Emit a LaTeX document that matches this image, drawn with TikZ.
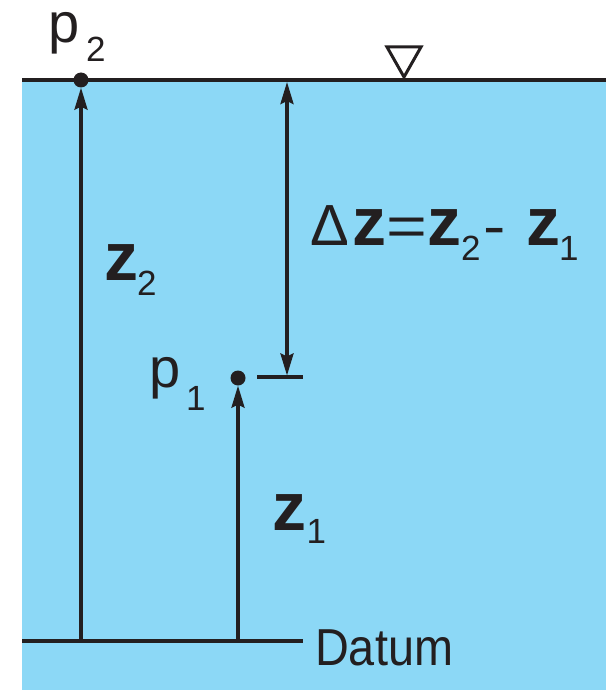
\documentclass[tikz,border=0pt]{standalone}
\usepackage{fontspec}
\setmainfont{Liberation Sans}
\usetikzlibrary{arrows.meta}
\definecolor{water}{RGB}{140,216,246}
\definecolor{ink}{RGB}{35,31,32}
\newcommand\zb{{\fontsize{68}{68}\selectfont\bfseries z}}
\newcommand\subs[2]{\raisebox{-#1pt}{\fontsize{35}{35}\selectfont #2}}
\newcommand\placeat[2]{\rlap{\kern#1pt\relax #2}}
\begin{document}
\begin{tikzpicture}[x=1pt,y=-1pt,
  line/.style={draw=ink,line width=3.6pt},
  tipa/.tip={Stealth[length=22pt,width=13pt,inset=3pt]},
  dim/.style={draw=ink,line width=3.2pt},
  dot/.style={circle,fill=ink,inner sep=0pt,minimum size=15pt},
  lbl/.style={anchor=base west,inner sep=0pt,text=ink,font=\fontsize{56}{56}\selectfont}]
\path[use as bounding box] (0,0) rectangle (610,690);
\fill[water] (22,80) rectangle (606,690);
\coordinate (sl) at (22,80); \coordinate (sr) at (606,80);
\coordinate (dl) at (22,641); \coordinate (dr) at (303,641);
\draw[line,line width=3.8pt] (sl) -- (sr);
\draw[line] (dl) -- (dr);
\node[dot] (p2) at (81,80) {};
\node[dot] (p1) at (238,378) {};
\coordinate (b2) at (81,641);
\coordinate (b1) at (238,641);
\draw[dim,-tipa] (b2) -- (p2);
\draw[dim,-tipa] (b1) -- (p1);
\coordinate (tk1) at (257,377); \coordinate (tk2) at (303,377);
\draw[line] (tk1) -- (tk2);
\coordinate (dzt) at (287,82); \coordinate (dzb) at (287,375.5);
\draw[dim,tipa-tipa] (dzt) -- (dzb);
\draw[ink,line width=3pt,fill=white,line join=miter] (387,47) -- (421,47) -- (404,77) -- cycle;
\node[lbl] (lp2) at (48,43) {\placeat{0}{p}\placeat{38}{\subs{19}{2}}\hspace*{58pt}};
\node[lbl] (lz2) at (104,280) {\placeat{0}{\zb}\placeat{33}{\subs{15}{2}}\hspace*{52pt}};
\node[lbl] (lp1) at (149,387) {\placeat{0}{p}\placeat{37}{\subs{23}{1}}\hspace*{55pt}};
\node[lbl] (lz1) at (272,530) {\placeat{0}{\zb}\placeat{34.5}{\subs{13}{1}}\hspace*{52pt}};
\node[lbl,font=\fontsize{52}{52}\selectfont] (dat) at (315,665) {\scalebox{0.9}[1]{Datum}};
\node[lbl] (dz) at (310,245) {\placeat{0}{\fontsize{58}{58}\selectfont Δ}%
\placeat{42}{\zb}%
\placeat{76}{\scalebox{1.25}[1]{\fontsize{56}{56}\selectfont =}}%
\placeat{117}{\zb}%
\placeat{151}{\subs{15}{2}}%
\placeat{173}{\scalebox{1.2}[1]{\fontsize{56}{56}\selectfont -}}%
\placeat{216}{\zb}%
\placeat{249}{\subs{15}{1}}\hspace*{266pt}};
\end{tikzpicture}
\end{document}
